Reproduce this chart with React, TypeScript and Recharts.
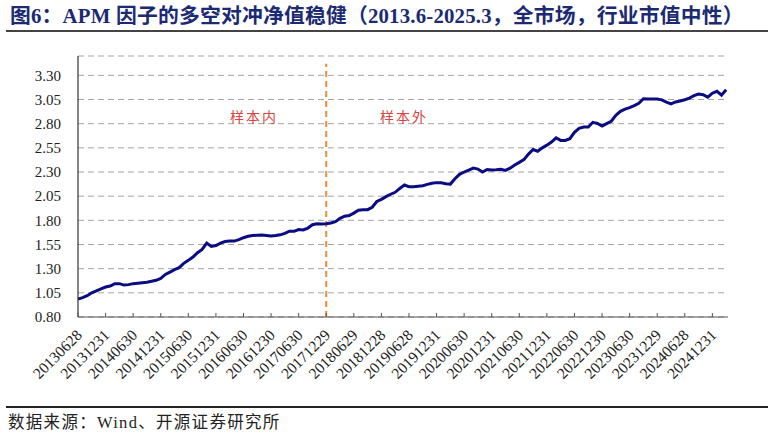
import React from 'react';
import { LineChart, Line, XAxis, YAxis, CartesianGrid, ReferenceLine } from 'recharts';

// monthly net value of the long-short hedge, 2013-06 .. 2025-03
const navValues = [
  0.985, 1.0, 1.02, 1.05, 1.07, 1.09, 1.11, 1.12, 1.145, 1.145,
  1.13, 1.135, 1.145, 1.15, 1.155, 1.16, 1.17, 1.18, 1.2, 1.24,
  1.265, 1.29, 1.31, 1.355, 1.386, 1.42, 1.465, 1.5, 1.565, 1.53,
  1.54, 1.565, 1.58, 1.585, 1.585, 1.6, 1.62, 1.635, 1.642, 1.646,
  1.647, 1.643, 1.638, 1.643, 1.65, 1.665, 1.687, 1.686, 1.705, 1.7,
  1.72, 1.755, 1.765, 1.762, 1.764, 1.773, 1.786, 1.82, 1.843, 1.85,
  1.875, 1.905, 1.91, 1.91, 1.935, 1.995, 2.017, 2.045, 2.07, 2.09,
  2.13, 2.165, 2.148, 2.148, 2.153, 2.158, 2.172, 2.184, 2.19, 2.189,
  2.178, 2.175, 2.23, 2.276, 2.3, 2.32, 2.34, 2.33, 2.3, 2.326,
  2.32, 2.323, 2.328, 2.316, 2.34, 2.372, 2.4, 2.428, 2.485, 2.533,
  2.515, 2.55, 2.578, 2.61, 2.654, 2.627, 2.627, 2.645, 2.71, 2.752,
  2.765, 2.765, 2.814, 2.802, 2.775, 2.8, 2.825, 2.886, 2.928, 2.95,
  2.966, 2.987, 3.01, 3.058, 3.055, 3.054, 3.054, 3.046, 3.022, 3.005,
  3.025, 3.035, 3.048, 3.064, 3.09, 3.106, 3.1, 3.075, 3.115, 3.135,
  3.096, 3.15,
];

const tickLabels = [
  '20130628', '20131231', '20140630', '20141231', '20150630', '20151231',
  '20160630', '20161230', '20170630', '20171229', '20180629', '20181228',
  '20190628', '20191231', '20200630', '20201231', '20210630', '20211231',
  '20220630', '20221230', '20230630', '20231229', '20240628', '20241231',
];

const yTicks = [0.8, 1.05, 1.3, 1.55, 1.8, 2.05, 2.3, 2.55, 2.8, 3.05, 3.3];

// in-sample / out-of-sample split at 20171229
const splitIndex = 54;

const data = navValues.map((v, i) => ({ idx: i, nav: v }));
const xTicks = tickLabels.map((_, i) => i * 6);

const serif = '"Liberation Serif", "Noto Serif CJK SC", "Noto Sans CJK SC", serif';
const cjk = '"Liberation Serif", "Noto Sans CJK SC", sans-serif';

const XTick = (props: any) => {
  const { x, y, payload } = props;
  const label = tickLabels[Math.round(payload.value / 6)] ?? '';
  const tx = x + 5;
  const ty = y + 19;
  return (
    <g>
      <line x1={x} x2={x} y1={y} y2={y - 4} stroke="#555" strokeWidth={1} />
      <text
        x={tx}
        y={ty}
        transform={`rotate(-45 ${tx} ${ty})`}
        textAnchor="end"
        fontSize={15.5}
        fontFamily={serif}
        fill="#222"
      >
        {label}
      </text>
    </g>
  );
};

export default function App() {
  return (
    <div
      style={{
        position: 'absolute',
        left: 0,
        top: 0,
        width: 774,
        height: 436,
        background: '#fff',
        overflow: 'hidden',
      }}
    >
      <div
        style={{
          position: 'absolute',
          left: 10,
          top: 3,
          fontSize: 20.8,
          fontWeight: 700,
          color: '#1b2a72',
          fontFamily: cjk,
          whiteSpace: 'nowrap',
          lineHeight: '26px',
          letterSpacing: 0.2,
        }}
      >
        图6：APM 因子的多空对冲净值稳健（2013.6-2025.3，全市场，行业市值中性）
      </div>
      <div style={{ position: 'absolute', left: 6, top: 30, width: 762, height: 1.5, background: '#444' }} />

      <LineChart
        width={774}
        height={436}
        data={data}
        margin={{ top: 56, right: 46, left: 18, bottom: 39 }}
      >
        <CartesianGrid vertical={false} stroke="#a6a6a6" strokeDasharray="6 4" />
        <XAxis
          dataKey="idx"
          type="number"
          domain={[0, 141.4]}
          ticks={xTicks}
          interval={0}
          tick={<XTick />}
          tickLine={false}
          tickSize={0}
          tickMargin={0}
          height={80}
          axisLine={{ stroke: '#555', strokeWidth: 1.2 }}
        />
        <YAxis
          type="number"
          domain={[0.8, 3.5]}
          ticks={yTicks}
          interval={0}
          tickFormatter={(v) => v.toFixed(2)}
          tick={{ fill: '#222', fontSize: 15, fontFamily: serif }}
          tickLine={false}
          tickSize={0}
          tickMargin={17}
          width={60}
          axisLine={{ stroke: '#333', strokeWidth: 1.2 }}
        />
        <ReferenceLine
          segment={[
            { x: splitIndex, y: 0.8 },
            { x: splitIndex, y: 3.42 },
          ]}
          stroke="#f08a3c"
          strokeWidth={2}
          strokeDasharray="6 4"
        />
        <Line
          type="linear"
          dataKey="nav"
          stroke="#0b0b82"
          strokeWidth={3}
          dot={false}
          isAnimationActive={false}
        />
      </LineChart>

      <div
        style={{
          position: 'absolute',
          left: 230,
          top: 106,
          fontSize: 14,
          letterSpacing: 2,
          color: '#d64541',
          fontFamily: cjk,
        }}
      >
        样本内
      </div>
      <div
        style={{
          position: 'absolute',
          left: 380,
          top: 106,
          fontSize: 14,
          letterSpacing: 2,
          color: '#d64541',
          fontFamily: cjk,
        }}
      >
        样本外
      </div>

      <div style={{ position: 'absolute', left: 6, top: 406, width: 762, height: 1.5, background: '#222' }} />
      <div
        style={{
          position: 'absolute',
          left: 8,
          top: 412,
          fontSize: 16.5,
          letterSpacing: 1.3,
          color: '#222',
          fontFamily: cjk,
          whiteSpace: 'nowrap',
          lineHeight: '22px',
        }}
      >
        数据来源：Wind、开源证券研究所
      </div>
    </div>
  );
}
